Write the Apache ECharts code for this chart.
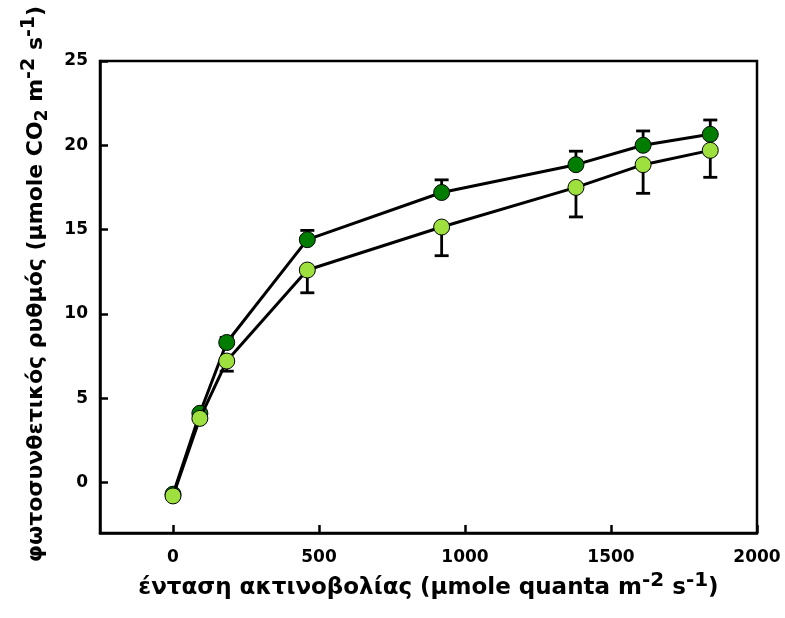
<!DOCTYPE html>
<html>
<head>
<meta charset="utf-8">
<script src="https://cdn.jsdelivr.net/npm/echarts@6/dist/echarts.min.js"></script>
<style>html,body{margin:0;padding:0;background:#fff}#c{width:785px;height:618px}</style>
</head>
<body>
<div id="c"></div>
<script>
const lightIntensity = [0, 92, 184, 460, 920, 1380, 1610, 1840];
const rateDark = [-0.7, 4.1, 8.3, 14.4, 17.2, 18.85, 20.0, 20.65];
const rateLight = [-0.8, 3.8, 7.2, 12.6, 15.15, 17.5, 18.85, 19.7];
const errDark = [0.1, 0.1, 0.3, 0.55, 0.75, 0.8, 0.85, 0.85];
const errLight = [0.1, 0.1, 0.6, 1.35, 1.7, 1.75, 1.7, 1.6];
const xTicks = [0, 500, 1000, 1500, 2000];
const yTicks = [0, 5, 10, 15, 20, 25];

const FONT = 'DejaVu Sans';
const chart = echarts.init(document.getElementById('c'), null, {renderer: 'canvas'});

function errSeries(vals, errs, dir) {
  return {
    type: 'custom',
    z: 1,
    silent: true,
    data: lightIntensity.map((x, i) => [x, vals[i], vals[i] + dir * errs[i]]),
    renderItem: function (params, api) {
      const p0 = api.coord([api.value(0), api.value(1)]);
      const p1 = api.coord([api.value(0), api.value(2)]);
      const hw = 7;
      return {
        type: 'group',
        children: [
          {type: 'line', shape: {x1: p0[0], y1: p0[1], x2: p1[0], y2: p1[1]}, style: {stroke: '#000', lineWidth: 2.8}},
          {type: 'line', shape: {x1: p1[0] - hw, y1: p1[1], x2: p1[0] + hw, y2: p1[1]}, style: {stroke: '#000', lineWidth: 2.8}}
        ]
      };
    }
  };
}

function rich(size) {
  return {
    n: {fontFamily: FONT, fontWeight: 'bold', fontSize: size, color: '#000'},
    sup: {fontFamily: FONT, fontWeight: 'bold', fontSize: size - 3, color: '#000', padding: [0, 0, 14, 0]},
    sub: {fontFamily: FONT, fontWeight: 'bold', fontSize: size - 5, color: '#000', padding: [12, 0, 0, 0]}
  };
}

chart.setOption({
  animation: false,
  grid: {left: 100, right: 28, top: 61, bottom: 85, show: true, borderColor: '#000', borderWidth: 2.5, backgroundColor: 'transparent'},
  xAxis: {
    type: 'value', min: -250, max: 2000,
    name: '{n|ένταση ακτινοβολίας (μmole quanta m}{sup|-2}{n| s}{sup|-1}{n|)}',
    nameLocation: 'middle', nameGap: 36,
    nameTextStyle: {rich: rich(23)},
    axisLine: {show: true, onZero: false, lineStyle: {color: '#000', width: 2.5}},
    axisTick: {show: true, inside: true, length: 8, lineStyle: {color: '#000', width: 2.5}, customValues: xTicks},
    axisLabel: {fontFamily: FONT, fontWeight: 'bold', fontSize: 17, color: '#000', margin: 16, customValues: xTicks, formatter: v => String(v)},
    splitLine: {show: false}
  },
  yAxis: {
    type: 'value', min: -3, max: 25,
    name: '{n|φωτοσυνθετικός ρυθμός (μmole CO}{sub|2}{n| m}{sup|-2}{n| s}{sup|-1}{n|)}',
    nameLocation: 'middle', nameGap: 47, nameRotate: 90,
    nameTextStyle: {rich: rich(22), padding: [0, 0, 0, 26]},
    axisLine: {show: true, onZero: false, lineStyle: {color: '#000', width: 2.5}},
    axisTick: {show: true, inside: true, length: 8, lineStyle: {color: '#000', width: 2.5}, customValues: yTicks},
    axisLabel: {fontFamily: FONT, fontWeight: 'bold', fontSize: 17, color: '#000', margin: 12, customValues: yTicks, formatter: v => String(v)},
    splitLine: {show: false}
  },
  series: [
    errSeries(rateDark, errDark, 1),
    errSeries(rateLight, errLight, -1),
    {
      type: 'line', z: 3,
      data: lightIntensity.map((x, i) => [x, rateDark[i]]),
      symbol: 'circle', symbolSize: 16,
      lineStyle: {color: '#000', width: 3},
      itemStyle: {color: '#007d00', borderColor: '#000', borderWidth: 1}
    },
    {
      type: 'line', z: 4,
      data: lightIntensity.map((x, i) => [x, rateLight[i]]),
      symbol: 'circle', symbolSize: 16,
      lineStyle: {color: '#000', width: 3},
      itemStyle: {color: '#9ee03e', borderColor: '#000', borderWidth: 1}
    }
  ]
});
</script>
</body>
</html>
